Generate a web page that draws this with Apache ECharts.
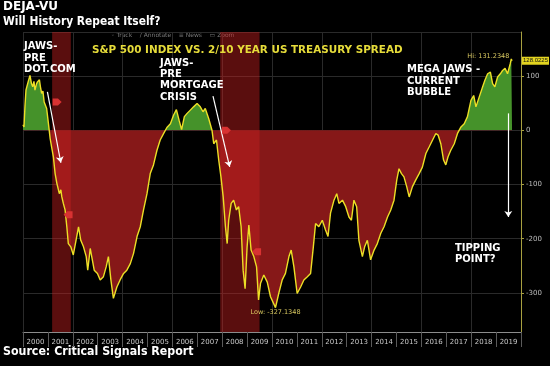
<!DOCTYPE html>
<html><head><meta charset="utf-8">
<script src="https://cdn.jsdelivr.net/npm/echarts@6/dist/echarts.min.js"></script>
<style>html,body{margin:0;padding:0;background:#000}#c{width:550px;height:366px}</style>
</head><body><div id="c"></div>
<script>
const years = ['2000','2001','2002','2003','2004','2005','2006','2007','2008','2009','2010','2011','2012','2013','2014','2015','2016','2017','2018','2019'];
const dates = [2000.00,2000.04,2000.08,2000.12,2000.20,2000.28,2000.34,2000.39,2000.44,2000.48,2000.54,2000.58,2000.66,2000.70,2000.75,2000.80,2000.85,2000.95,
2001.03,2001.09,2001.15,2001.22,2001.29,2001.36,2001.46,2001.52,2001.56,2001.62,2001.69,2001.76,2001.82,2001.92,
2002.02,2002.13,2002.23,2002.32,2002.43,2002.54,2002.60,2002.70,2002.76,2002.86,2002.99,
2003.10,2003.23,2003.34,2003.43,2003.53,2003.63,2003.77,2003.90,
2004.04,2004.17,2004.31,2004.44,2004.58,2004.71,2004.84,2004.98,
2005.11,2005.24,2005.38,2005.51,2005.65,2005.78,2005.92,
2006.05,2006.16,2006.27,2006.37,2006.48,2006.59,2006.72,2006.85,2006.99,
2007.12,2007.23,2007.32,2007.46,2007.59,2007.66,2007.77,2007.86,2007.95,
2008.04,2008.13,2008.20,2008.26,2008.36,2008.46,2008.57,2008.66,2008.76,2008.84,2008.92,
2009.00,2009.07,2009.16,2009.27,2009.38,2009.46,2009.54,2009.67,2009.81,2009.94,
2010.14,2010.27,2010.41,2010.54,2010.68,2010.77,2010.88,
2011.01,2011.15,2011.28,2011.42,2011.55,2011.66,2011.75,2011.88,
2012.02,2012.15,2012.25,2012.35,2012.49,2012.60,2012.69,2012.83,2012.96,
2013.09,2013.19,2013.29,2013.40,2013.49,2013.63,2013.72,2013.83,2013.96,
2014.10,2014.23,2014.37,2014.50,2014.64,2014.77,2014.90,
2015.01,2015.10,2015.20,2015.30,2015.41,2015.51,2015.64,2015.77,2015.91,
2016.04,2016.18,2016.31,2016.45,2016.58,2016.67,2016.78,2016.89,2016.98,
2017.07,2017.18,2017.32,2017.45,2017.59,2017.72,2017.85,2017.99,
2018.10,2018.19,2018.32,2018.46,2018.55,2018.66,2018.77,2018.86,2018.95,
2019.06,2019.17,2019.26,2019.36,2019.46,2019.57,2019.61,2019.64];
const spread = [10,6,45,74,88,101,86,80,90,74,85,89,93,80,68,72,52,40,
9,-15,-31,-49,-80,-98,-117,-110,-123,-135,-147,-178,-209,-215,
-230,-203,-178,-203,-215,-233,-258,-218,-233,-258,-264,
-276,-270,-252,-233,-276,-310,-289,-276,
-264,-258,-246,-227,-196,-178,-147,-117,
-80,-64,-37,-18,-6,5,12,
28,38,18,1,25,31,37,43,49,
43,34,40,21,0,-25,-18,-55,-86,
-123,-178,-209,-166,-135,-129,-147,-141,-178,-258,-292,
-215,-175,-221,-233,-252,-313,-282,-267,-280,-307,
-327.1348,-301,-276,-264,-233,-221,-252,
-301,-289,-276,-270,-264,-215,-172,-178,
-166,-184,-196,-153,-129,-117,-135,-129,-141,
-160,-166,-129,-141,-203,-233,-215,-203,-239,
-221,-209,-190,-178,-160,-147,-129,
-92,-71,-80,-86,-104,-123,-104,-92,-80,
-68,-43,-31,-18,-6,-9,-25,-55,-64,
-49,-37,-25,-6,6,12,25,55,
64,43,61,80,92,104,107,86,80,
98,104,110,114,104,123,131.2348,128.0225];
const recessions = [[2001.17, 2001.92], [2007.92, 2009.50]];
const eventMarks = [[2001.37, 52, 'r'], [2001.81, -156, 'l'], [2008.17, 0, 'r'], [2009.38, -224, 'l']];
const arrows = [[[2000.98, 70.5], [2001.52, -60]], [[2007.63, 62.6], [2008.30, -67.6]], [[2019.49, 31], [2019.49, -160]]];
const yMin = -372, yMax = 181;
const lastValue = spread[spread.length - 1];

const pts = dates.map((d, i) => [d, spread[i]]);
const vMax = Math.max.apply(null, spread), vMin = Math.min.apply(null, spread);
const zeroFrac = vMax / (vMax - vMin);
const GREEN = '#45922a', RED = '#861818';
const FONT = '"DejaVu Sans", sans-serif';
const chart = echarts.init(document.getElementById('c'), null, {renderer: 'canvas'});
const tagR = 'path://M0,0 L6,0 L10,4 L6,8 L0,8 Z';
const tagL = 'path://M4,0 L10,0 L10,8 L4,8 L0,4 Z';

chart.setOption({
  backgroundColor: '#000',
  animation: false,
  grid: {left: 23, right: 29, top: 32, bottom: 34, containLabel: false},
  xAxis: [
    {type: 'value', min: 2000, max: 2020, interval: 2, axisLine: {show: false}, axisTick: {show: false}, axisLabel: {show: false},
     splitLine: {show: true, lineStyle: {color: '#2a2a2a', width: 1}}},
    {type: 'category', data: years, boundaryGap: true, position: 'bottom',
     axisLine: {show: true, lineStyle: {color: '#8c8c8c', width: 1}},
     axisTick: {show: true, alignWithLabel: false, interval: 0, length: 15, lineStyle: {color: '#5a5a5a'}},
     axisLabel: {interval: 0, color: '#c8c8c8', fontSize: 7, fontFamily: FONT, margin: 7},
     splitLine: {show: false}}
  ],
  yAxis: {type: 'value', position: 'right', min: yMin, max: yMax, splitNumber: 5,
    axisLine: {show: true, lineStyle: {color: '#a8a040', width: 1}},
    axisTick: {show: true, length: 3, lineStyle: {color: '#a8a040'}},
    axisLabel: {color: '#bdbdbd', fontSize: 7, fontFamily: FONT, margin: 5, showMinLabel: false, showMaxLabel: false},
    splitLine: {show: true, lineStyle: {color: '#2a2a2a', width: 1}}
  },
  graphic: [
    {type: 'text', x: 3, y: 1, style: {text: 'DEJA-VU', fill: '#fff', font: 'bold 12px ' + FONT}},
    {type: 'text', x: 3, y: 16, scaleX: 0.89, style: {text: 'Will History Repeat Itself?', fill: '#fff', font: 'bold 12px ' + FONT}},
    {type: 'text', x: 3, y: 346, scaleX: 0.92, style: {text: 'Source: Critical Signals Report', fill: '#fff', font: 'bold 12px ' + FONT}},
    {type: 'text', x: 111, y: 32, style: {text: '◦ Track    ∕ Annotate    ≡ News    ▭ Zoom', fill: '#7a7a7a', font: '6px ' + FONT}},
    {type: 'text', x: 92, y: 45, z: 10, style: {text: 'S&P 500 INDEX VS. 2/10 YEAR US TREASURY SPREAD', fill: '#e6dc3a', font: 'bold 10.4px ' + FONT}},
    {type: 'text', x: 24, y: 41, z: 10, style: {text: 'JAWS-\nPRE\nDOT.COM', fill: '#fff', font: 'bold 10px ' + FONT, lineHeight: 11.3}},
    {type: 'text', x: 160, y: 57.5, z: 10, style: {text: 'JAWS-\nPRE\nMORTGAGE\nCRISIS', fill: '#fff', font: 'bold 10px ' + FONT, lineHeight: 11.3}},
    {type: 'text', x: 407, y: 64, z: 10, style: {text: 'MEGA JAWS -\nCURRENT\nBUBBLE', fill: '#fff', font: 'bold 10px ' + FONT, lineHeight: 11.3}},
    {type: 'text', x: 455, y: 242.5, z: 10, style: {text: 'TIPPING\nPOINT?', fill: '#fff', font: 'bold 10px ' + FONT, lineHeight: 11.3}}
  ],
  series: [
    {type: 'line', xAxisIndex: 0, data: pts, showSymbol: false, silent: true, z: 1,
     lineStyle: {width: 0, opacity: 0},
     areaStyle: {opacity: 1, color: new echarts.graphic.LinearGradient(0, 0, 0, 1, [
       {offset: 0, color: GREEN}, {offset: zeroFrac, color: GREEN}, {offset: zeroFrac, color: RED}, {offset: 1, color: RED}])}},
    {type: 'custom', xAxisIndex: 0, z: 2, silent: true, data: recessions,
     renderItem: function (params, api) {
       const a = api.coord([api.value(0), yMax]);
       const b = api.coord([api.value(1), yMin]);
       return {type: 'rect', shape: {x: a[0], y: a[1], width: b[0] - a[0], height: b[1] - a[1]},
         style: {fill: 'rgba(200,32,32,0.45)'}};
     }},
    {type: 'line', xAxisIndex: 0, data: pts, showSymbol: false, z: 3, silent: true,
     lineStyle: {color: '#ecdf26', width: 1.4},
     markPoint: {silent: true, animation: false,
       data: [
         {type: 'max', symbolSize: 0, label: {show: true, position: 'left', distance: 2, offset: [0, -3], formatter: p => 'Hi: ' + p.value, color: '#d8c860', fontSize: 6.5, fontFamily: FONT}},
         {type: 'min', symbolSize: 0, label: {show: true, position: 'bottom', distance: 1, formatter: p => 'Low: ' + p.value, color: '#d8c860', fontSize: 6.5, fontFamily: FONT}}
       ].concat(eventMarks.map(m => ({coord: [m[0], m[1]], symbol: m[2] === 'r' ? tagR : tagL, symbolSize: [9, 7],
         itemStyle: {color: '#d83232'}, label: {show: false}})))
     },
     markLine: {silent: true, animation: false, symbol: ['none', 'arrow'], symbolSize: 6,
       lineStyle: {color: '#ffffff', width: 1.2, type: 'solid'}, label: {show: false},
       data: arrows.map(a => [{coord: a[0]}, {coord: a[1]}]).concat([
         {yAxis: lastValue, symbol: 'none', lineStyle: {color: 'rgba(0,0,0,0)', width: 1},
          label: {show: true, position: 'end', distance: 1, formatter: String(lastValue), color: '#111', backgroundColor: '#e3d420',
                  fontSize: 6, fontFamily: '"Liberation Sans", sans-serif', padding: [1, 1, 1, 1]}}])
     }}
  ]
});
</script></body></html>
